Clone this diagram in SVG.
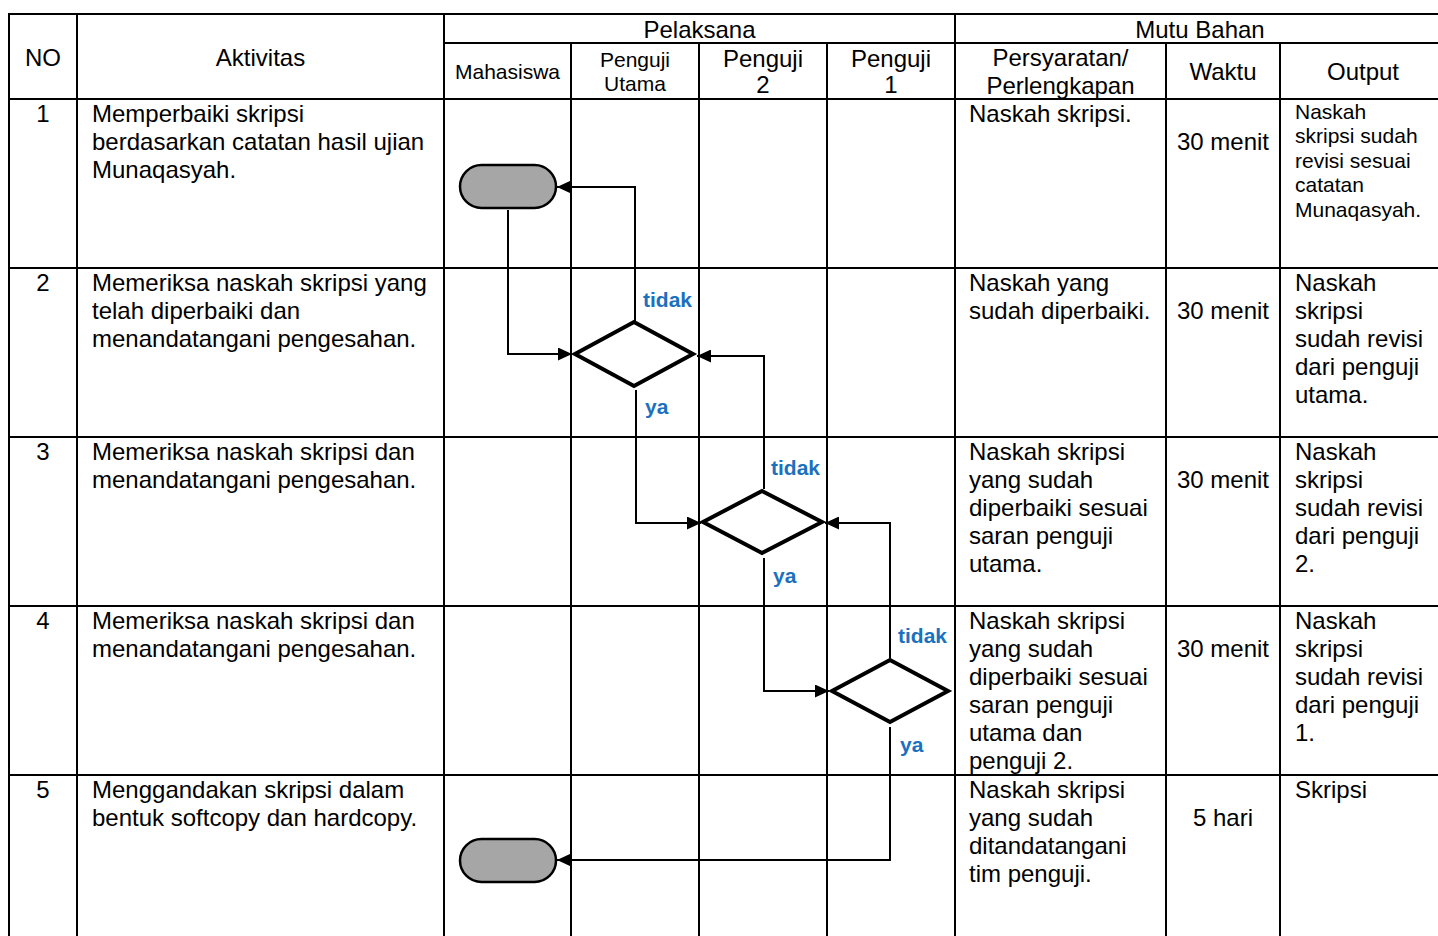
<svg xmlns="http://www.w3.org/2000/svg" width="1438" height="936" viewBox="0 0 1438 936">
<style>
.grid line{stroke:#000;stroke-width:2}
text{font-family:"Liberation Sans",Arial,sans-serif;fill:#000}
.t24{font-size:24px}
.t21{font-size:21px}
.c{text-anchor:middle}
.lbl{font-size:21px;font-weight:bold;fill:#1b70c0}
.term{fill:#a6a6a6;stroke:#000;stroke-width:2.5}
.dia{fill:#fff;stroke:#000;stroke-width:4;stroke-linejoin:miter}
.conn path{fill:none;stroke:#000;stroke-width:2}
</style>
<defs>
<marker id="ah" markerUnits="userSpaceOnUse" markerWidth="15" markerHeight="13" refX="14" refY="6.5" orient="auto">
<path d="M0,0 L14,6.5 L0,13 z" fill="#000"/>
</marker>
</defs>
<rect width="1438" height="936" fill="#fff"/>
<g id="table" class="grid">
<line x1="8" y1="14" x2="1438" y2="14"/>
<line x1="444" y1="43" x2="1438" y2="43"/>
<line x1="8" y1="99" x2="1438" y2="99"/>
<line x1="8" y1="268" x2="1438" y2="268"/>
<line x1="8" y1="437" x2="1438" y2="437"/>
<line x1="8" y1="606" x2="1438" y2="606"/>
<line x1="8" y1="775" x2="1438" y2="775"/>
<line x1="9" y1="13" x2="9" y2="936"/>
<line x1="77" y1="13" x2="77" y2="936"/>
<line x1="444" y1="13" x2="444" y2="936"/>
<line x1="571" y1="43" x2="571" y2="936"/>
<line x1="699" y1="43" x2="699" y2="936"/>
<line x1="827" y1="43" x2="827" y2="936"/>
<line x1="955" y1="13" x2="955" y2="936"/>
<line x1="1166" y1="43" x2="1166" y2="936"/>
<line x1="1280" y1="43" x2="1280" y2="936"/>
</g>
<g id="header">
<text class="t24 c" x="43" y="65.5">NO</text>
<text class="t24 c" x="260.5" y="65.5">Aktivitas</text>
<text class="t24 c" x="699.5" y="37.5">Pelaksana</text>
<text class="t24 c" x="1200" y="37.5">Mutu Bahan</text>
<text class="t21 c" x="507.5" y="78.5">Mahasiswa</text>
<text class="t21 c" x="635" y="66.5">Penguji<tspan x="635" y="90.5">Utama</tspan></text>
<text class="t24 c" x="763" y="66.5">Penguji<tspan x="763" y="92.5">2</tspan></text>
<text class="t24 c" x="891" y="66.5">Penguji<tspan x="891" y="92.5">1</tspan></text>
<text class="t24 c" x="1060.5" y="65.5">Persyaratan/<tspan x="1060.5" y="93.5">Perlengkapan</tspan></text>
<text class="t24 c" x="1223" y="79.5">Waktu</text>
<text class="t24 c" x="1363" y="79.5">Output</text>
</g>
<g id="row1">
<text class="t24 c" x="43" y="122">1</text>
<text class="t24" x="92" y="122">Memperbaiki skripsi<tspan x="92" y="150">berdasarkan catatan hasil ujian</tspan><tspan x="92" y="178">Munaqasyah.</tspan></text>
<text class="t24" x="969" y="122">Naskah skripsi.</text>
<text class="t24 c" x="1223" y="150">30 menit</text>
<text class="t21" x="1295" y="119">Naskah<tspan x="1295" y="143.4">skripsi sudah</tspan><tspan x="1295" y="167.8">revisi sesuai</tspan><tspan x="1295" y="192.2">catatan</tspan><tspan x="1295" y="216.6">Munaqasyah.</tspan></text>
</g>
<g id="row2">
<text class="t24 c" x="43" y="291">2</text>
<text class="t24" x="92" y="291">Memeriksa naskah skripsi yang<tspan x="92" y="319">telah diperbaiki dan</tspan><tspan x="92" y="347">menandatangani pengesahan.</tspan></text>
<text class="t24" x="969" y="291">Naskah yang<tspan x="969" y="319">sudah diperbaiki.</tspan></text>
<text class="t24 c" x="1223" y="319">30 menit</text>
<text class="t24" x="1295" y="291">Naskah<tspan x="1295" y="319">skripsi</tspan><tspan x="1295" y="347">sudah revisi</tspan><tspan x="1295" y="375">dari penguji</tspan><tspan x="1295" y="403">utama.</tspan></text>
</g>
<g id="row3">
<text class="t24 c" x="43" y="460">3</text>
<text class="t24" x="92" y="460">Memeriksa naskah skripsi dan<tspan x="92" y="488">menandatangani pengesahan.</tspan></text>
<text class="t24" x="969" y="460">Naskah skripsi<tspan x="969" y="488">yang sudah</tspan><tspan x="969" y="516">diperbaiki sesuai</tspan><tspan x="969" y="544">saran penguji</tspan><tspan x="969" y="572">utama.</tspan></text>
<text class="t24 c" x="1223" y="488">30 menit</text>
<text class="t24" x="1295" y="460">Naskah<tspan x="1295" y="488">skripsi</tspan><tspan x="1295" y="516">sudah revisi</tspan><tspan x="1295" y="544">dari penguji</tspan><tspan x="1295" y="572">2.</tspan></text>
</g>
<g id="row4">
<text class="t24 c" x="43" y="629">4</text>
<text class="t24" x="92" y="629">Memeriksa naskah skripsi dan<tspan x="92" y="657">menandatangani pengesahan.</tspan></text>
<text class="t24" x="969" y="629">Naskah skripsi<tspan x="969" y="657">yang sudah</tspan><tspan x="969" y="685">diperbaiki sesuai</tspan><tspan x="969" y="713">saran penguji</tspan><tspan x="969" y="741">utama dan</tspan><tspan x="969" y="769">penguji 2.</tspan></text>
<text class="t24 c" x="1223" y="657">30 menit</text>
<text class="t24" x="1295" y="629">Naskah<tspan x="1295" y="657">skripsi</tspan><tspan x="1295" y="685">sudah revisi</tspan><tspan x="1295" y="713">dari penguji</tspan><tspan x="1295" y="741">1.</tspan></text>
</g>
<g id="row5">
<text class="t24 c" x="43" y="798">5</text>
<text class="t24" x="92" y="798">Menggandakan skripsi dalam<tspan x="92" y="826">bentuk softcopy dan hardcopy.</tspan></text>
<text class="t24" x="969" y="798">Naskah skripsi<tspan x="969" y="826">yang sudah</tspan><tspan x="969" y="854">ditandatangani</tspan><tspan x="969" y="882">tim penguji.</tspan></text>
<text class="t24 c" x="1223" y="826">5 hari</text>
<text class="t24" x="1295" y="798">Skripsi</text>
</g>
<g id="connectors" class="conn">
<path d="M635,321 V187 H557" marker-end="url(#ah)"/>
<path d="M508,210 V354 H572" marker-end="url(#ah)"/>
<path d="M764,489 V356 H697" marker-end="url(#ah)"/>
<path d="M636,390 V523 H701" marker-end="url(#ah)"/>
<path d="M890,658 V523 H825" marker-end="url(#ah)"/>
<path d="M764,558 V691 H829" marker-end="url(#ah)"/>
<path d="M890,727 V860 H557" marker-end="url(#ah)"/>
</g>
<g id="start"><rect class="term" x="460" y="165" width="96" height="43" rx="21.5"/></g>
<g id="cek-penguji-utama"><polygon class="dia" points="634,322 693,354 634,386 575,354"/></g>
<g id="cek-penguji-2"><polygon class="dia" points="762,491 822,522 762,553 703,522"/></g>
<g id="cek-penguji-1"><polygon class="dia" points="890,660 948,691 890,722 832,691"/></g>
<g id="end"><rect class="term" x="460" y="839" width="96" height="43" rx="21.5"/></g>
<g id="labels">
<text class="lbl" x="643" y="307">tidak</text>
<text class="lbl" x="645" y="414">ya</text>
<text class="lbl" x="771" y="475">tidak</text>
<text class="lbl" x="773" y="583">ya</text>
<text class="lbl" x="898" y="643">tidak</text>
<text class="lbl" x="900" y="752">ya</text>
</g>
</svg>
